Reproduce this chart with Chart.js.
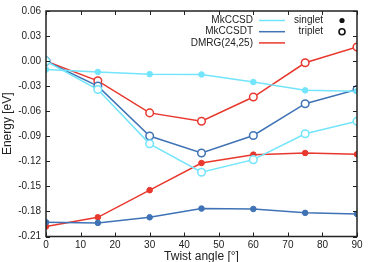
<!DOCTYPE html>
<html>
<head>
<meta charset="utf-8">
<script src="https://cdn.jsdelivr.net/npm/chart.js@4/dist/chart.umd.min.js"></script>
<style>
  html, body { margin: 0; padding: 0; background: #fff; }
  #wrap { width: 374px; height: 262px; }
</style>
</head>
<body>
<div id="wrap"><canvas id="c"></canvas></div>
<script>
// twist angles (deg)
const angles = [0, 15, 30, 45, 60, 75, 90];
const xTicks = [0, 10, 20, 30, 40, 50, 60, 70, 80, 90];
const yTicks = [-0.21, -0.18, -0.15, -0.12, -0.09, -0.06, -0.03, 0.00, 0.03, 0.06];

// energies in eV
const mkccsdSinglet  = [-0.010, -0.013, -0.0156, -0.016, -0.025, -0.035, -0.036];
const mkccsdTriplet  = [0.000, -0.034, -0.099, -0.133, -0.118, -0.087, -0.072];
const mkccsdtSinglet = [-0.193, -0.1937, -0.187, -0.1765, -0.177, -0.1817, -0.183];
const mkccsdtTriplet = [0.000, -0.030, -0.0897, -0.110, -0.089, -0.051, -0.034];
const dmrgSinglet    = [-0.198, -0.187, -0.1545, -0.122, -0.112, -0.110, -0.1116];
const dmrgTriplet    = [0.000, -0.0236, -0.062, -0.072, -0.043, -0.002, 0.0168];

const CYAN = '#72e4fb';
const BLUE = '#3f73b5';
const RED = '#e8382e';
const FONT = 'Liberation Sans, Arial, sans-serif';

const pts = arr => arr.map((v, i) => ({ x: angles[i], y: v }));

function series(data, color, open) {
  return {
    data: pts(data),
    borderColor: color,
    backgroundColor: open ? '#fff' : color,
    pointBorderColor: color,
    pointBackgroundColor: open ? '#fff' : color,
    borderWidth: 1.5,
    pointRadius: open ? 3.8 : 2.8,
    pointBorderWidth: open ? 1.5 : 1,
    tension: 0,
    fill: false
  };
}

// gnuplot-like frame, inward ticks on all sides, custom legend
const framePlugin = {
  id: 'frame',
  afterDraw(chart) {
    const { ctx, chartArea: a, scales } = chart;
    ctx.save();
    ctx.strokeStyle = '#222';
    ctx.lineWidth = 1;
    const L = 4;
    xTicks.forEach(t => {
      const x = Math.round(scales.x.getPixelForValue(t)) + 0.5;
      ctx.beginPath();
      ctx.moveTo(x, a.bottom); ctx.lineTo(x, a.bottom - L);
      ctx.moveTo(x, a.top); ctx.lineTo(x, a.top + L);
      ctx.stroke();
    });
    yTicks.forEach(t => {
      const y = Math.round(scales.y.getPixelForValue(t)) + 0.5;
      ctx.beginPath();
      ctx.moveTo(a.left, y); ctx.lineTo(a.left + L, y);
      ctx.moveTo(a.right, y); ctx.lineTo(a.right - L, y);
      ctx.stroke();
    });
    ctx.lineWidth = 1.5;
    ctx.strokeRect(a.left, a.top, a.right - a.left, a.bottom - a.top);

    // legend
    ctx.font = '10px ' + FONT;
    ctx.textAlign = 'right';
    ctx.textBaseline = 'middle';
    const rows = [
      ['MkCCSD', CYAN],
      ['MkCCSDT', BLUE],
      ['DMRG(24,25)', RED]
    ];
    rows.forEach((r, i) => {
      const y = a.top + 9.5 + i * 11.2;
      ctx.fillStyle = '#222';
      ctx.fillText(r[0], a.left + 207, y);
      ctx.strokeStyle = r[1];
      ctx.lineWidth = 1.5;
      ctx.beginPath();
      ctx.moveTo(a.left + 213, y); ctx.lineTo(a.left + 239, y);
      ctx.stroke();
    });
    const kinds = ['singlet', 'triplet'];
    kinds.forEach((k, i) => {
      const y = a.top + 9.5 + i * 11.2;
      ctx.fillStyle = '#222';
      ctx.fillText(k, a.left + 277, y);
      ctx.beginPath();
      ctx.arc(a.left + 296, y, i ? 3 : 2.6, 0, Math.PI * 2);
      if (i) { ctx.strokeStyle = '#111'; ctx.lineWidth = 1.6; ctx.stroke(); }
      else { ctx.fillStyle = '#111'; ctx.fill(); }
    });
    ctx.restore();
  }
};

new Chart(document.getElementById('c'), {
  type: 'line',
  data: {
    datasets: [
      series(mkccsdSinglet, CYAN, false),
      series(mkccsdTriplet, CYAN, true),
      series(mkccsdtSinglet, BLUE, false),
      series(mkccsdtTriplet, BLUE, true),
      series(dmrgSinglet, RED, false),
      series(dmrgTriplet, RED, true)
    ]
  },
  options: {
    responsive: true,
    maintainAspectRatio: false,
    animation: false,
    layout: { padding: { left: 0, right: 17, top: 7.5, bottom: 0 } },
    plugins: { legend: { display: false }, tooltip: { enabled: false } },
    scales: {
      x: {
        type: 'linear',
        min: 0, max: 90,
        afterBuildTicks: s => { s.ticks = xTicks.map(v => ({ value: v })); },
        afterFit: s => { s.height = 25.5; },
        grid: { display: false, drawTicks: false },
        border: { display: false },
        ticks: { color: '#222', font: { family: FONT, size: 10 }, padding: 3, maxRotation: 0 },
        title: { display: true, text: 'Twist angle [°]', color: '#222', font: { family: FONT, size: 12 }, padding: { top: 0, bottom: -2 } }
      },
      y: {
        type: 'linear',
        min: -0.21, max: 0.06,
        afterBuildTicks: s => { s.ticks = yTicks.map(v => ({ value: v })); },
        afterFit: s => { s.width = 46; },
        grid: { display: false, drawTicks: false },
        border: { display: false },
        ticks: { color: '#222', font: { family: FONT, size: 10 }, padding: 5, callback: v => v.toFixed(2) },
        title: { display: true, text: 'Energy [eV]', color: '#222', font: { family: FONT, size: 12 }, padding: { top: 0, bottom: 0 } }
      }
    }
  },
  plugins: [framePlugin]
});
</script>
</body>
</html>
